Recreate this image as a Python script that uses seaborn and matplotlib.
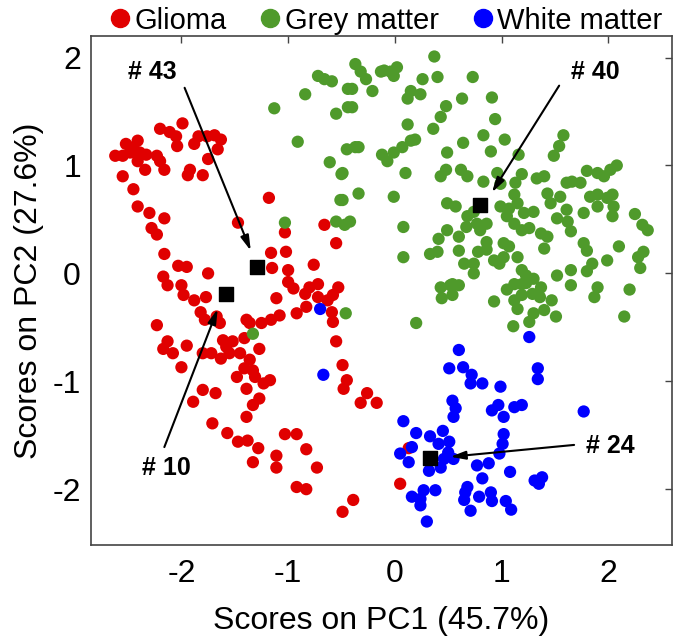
import numpy as np
import pandas as pd
import seaborn as sns
import matplotlib.pyplot as plt

# ---- data (PCA scores) ----
glioma_pc1 = [-1.99, -2.20, -2.11, -2.05, -2.04, -1.84, -1.76, -1.69, -1.63, -1.66, -1.88, -1.75,
              -1.92, -1.94, -1.80, -2.52, -2.41, -2.45, -2.62, -2.55, -2.48, -2.39, -2.33, -2.23,
              -2.20, -2.41, -2.34, -2.55, -2.16, -2.45, -2.41, -2.30, -2.16, -2.28, -2.23, -2.16,
              -2.17, -2.03, -1.95, -1.75, -1.47, -1.18, -1.03, -1.16, -1.02, -1.15, -1.00, -0.76,
              -0.66, -0.55, -0.80, -0.72, -0.53, -0.95,
              -2.13, -2.00, -1.98, -1.88, -1.77, -1.82, -1.78, -1.67, -1.64, -2.23, -2.17, -2.13,
              -2.08, -1.95, -2.00, -1.80, -1.72, -1.61, -1.58, -1.52, -1.63, -1.55, -1.45, -1.39,
              -1.36, -1.41, -1.27, -1.36, -1.41, -1.33, -1.23, -1.17, -1.48, -1.39, -1.31, -1.27,
              -1.33, -1.39, -1.89, -1.80, -1.68, -1.71, -1.57, -1.47, -1.38, -1.28, -1.33, -1.11,
              -1.11, -1.03, -0.92, -0.83, -0.73, -0.92, -0.83, -1.25, -1.16, -1.08, -1.11, -1.00,
              -0.84, -0.92, -0.83, -0.72, -0.63, -0.58, -0.59, -0.55, -0.58,
              -0.49, -0.45, -0.48, -0.26, -0.32, -0.17, 0.13, 0.05, -0.39, -0.49]
glioma_pc2 = [1.39, 1.34, 1.31, 1.27, 1.18, 1.27, 1.27, 1.28, 1.24, 1.15, 1.20, 1.06,
              0.96, 0.91, 0.91, 1.20, 1.23, 1.17, 1.09, 1.09, 1.12, 1.12, 1.10, 1.09,
              1.04, 1.04, 0.96, 0.90, 0.96, 0.78, 0.62, 0.56, 0.51, 0.42, 0.36, 0.18,
              -0.03, 0.07, 0.06, 0.00, 0.47, 0.70, 0.38, 0.19, 0.20, 0.05, 0.03, 0.08,
              0.45, 0.28, -0.13, -0.10, -0.13, -0.14,
              -0.11, -0.11, -0.20, -0.25, -0.22, -0.36, -0.43, -0.40, -0.46, -0.48, -0.70, -0.63,
              -0.74, -0.67, -0.87, -0.74, -0.74, -0.62, -0.68, -0.63, -0.79, -0.74, -0.74, -0.43,
              -0.46, -0.60, -0.70, -0.80, -0.88, -0.90, -1.02, -0.99, -0.96, -1.07, -0.96, -1.16,
              -1.22, -1.33, -1.19, -1.08, -1.11, -1.39, -1.48, -1.56, -1.55, -1.62, -1.75, -1.69,
              -1.80, -1.49, -1.49, -1.63, -1.80, -1.98, -2.00, -0.46, -0.43, -0.39, -0.23, -0.08,
              -0.19, -0.37, -0.31, -0.22, -0.25, -0.20, -0.36, -0.63, -0.45,
              -0.85, -0.99, -1.07, -1.11, -1.20, -1.20, -1.62, -1.95, -2.10, -2.21]

grey_pc1 = [-1.13, -0.84, -0.72, -0.66, -0.59, -0.44, -0.55, -0.44, -0.91, -0.61, -0.50, -0.45,
            -0.51, -1.03, -0.55, -0.47, -0.46, -1.33,
            0.37, 0.40, 0.26, 0.73, -0.37, -0.32, -0.27, -0.40, -0.21, -0.13, -0.10, -0.04,
            0.02, -0.01, 0.15, 0.12, 0.24, -0.40, 0.91, 0.94, 0.63, 0.48, 0.43, 0.36,
            0.12, 0.83, 1.03, 1.58, 1.54, 1.49, -0.37, -0.34, -0.12, -0.07, -0.01, 0.07,
            0.15, 0.19, 0.10, 0.64, 0.49, 0.90, 1.16, -0.49, -0.49, -0.34, -0.42, -0.01,
            0.08, 0.08, 0.43, 0.48, 0.62, 0.68, 0.83, 0.96, 0.99, 1.19, 1.33, 1.40,
            1.43, 1.46, 1.13, 1.12, 1.15, 1.21, 1.30, 1.07, 0.99, 1.05, 1.12, 1.19,
            1.26, 1.37, 1.43, 1.40, 1.55, 1.61, 1.66, 1.74, 1.80, 1.90, 1.96, 2.02,
            2.08, 1.83, 1.90, 1.99, 2.04, 1.90, 2.05, 2.04, 1.77, 1.61, 1.52, 1.62,
            1.65, 1.77, 1.80, 1.85, 1.99, 1.90, 1.65, 1.52, 1.30, 1.23, 1.19, 1.19,
            1.37, 1.12, 1.02, 1.02, 1.07, 1.15, 0.80, 0.86, 0.86, 0.78, 0.74, 0.93,
            0.98, 0.60, 0.65, 0.60, 0.68, 0.74, 0.77, 0.86, 0.67, 0.49, 0.41, 0.40,
            0.33, 0.49, 0.57, 0.43, 0.54,
            0.52, 0.60, 0.44, 0.54, 0.74, 0.93, 1.05, 1.12, 1.19, 1.29, 1.36, 1.47,
            1.15, 1.30, 1.40, 1.51, 1.26, 1.11, 1.65, 1.80, 1.87, 1.23, 0.20,
            2.25, 2.32, 2.37, 2.28, 2.33, 2.30, 2.20, 2.15, 2.10]
grey_pc2 = [1.53, 1.66, 1.83, 1.80, 1.78, 1.71, 1.48, 1.54, 1.22, 1.03, 0.92, 1.15,
            0.68, 0.47, 0.48, 0.45, -0.37, -0.56,
            2.01, 1.82, 1.80, 1.82, 1.94, 1.87, 1.80, 1.71, 1.69, 1.87, 1.88, 1.87,
            1.91, 1.83, 1.69, 1.62, 1.66, 1.54, 1.63, 1.43, 1.62, 1.55, 1.45, 1.34,
            1.38, 1.28, 1.24, 1.28, 1.18, 1.09, 1.17, 1.17, 1.10, 1.04, 1.12, 1.17,
            1.23, 1.24, 0.93, 1.21, 1.12, 1.13, 1.10, 0.93, 0.68, 0.74, 0.48, 0.71,
            0.43, 0.15, 0.90, 0.96, 0.96, 0.90, 0.85, 0.93, 0.83, 0.92, 0.88, 0.90,
            0.74, 0.65, 0.84, 0.73, 0.65, 0.56, 0.57, 0.60, 0.62, 0.53, 0.46, 0.40,
            0.42, 0.37, 0.34, 0.23, 0.71, 0.84, 0.85, 0.84, 0.95, 0.93, 0.90, 0.96,
            1.00, 0.71, 0.73, 0.70, 0.73, 0.62, 0.62, 0.53, 0.56, 0.59, 0.51, 0.48,
            0.39, 0.28, 0.21, 0.09, 0.12, -0.13, 0.03, -0.02, -0.05, -0.02, 0.03, -0.10,
            -0.13, -0.10, 0.28, 0.15, 0.25, 0.15, 0.40, 0.29, 0.22, 0.20, 0.09, 0.12,
            0.09, 0.21, 0.09, 0.34, 0.53, 0.57, 0.46, 0.46, 0.43, 0.40, 0.32, 0.20,
            0.18, 0.65, 0.62, -0.13, -0.10,
            -0.11, -0.11, -0.23, -0.20, 0.00, -0.26, -0.15, -0.25, -0.20, -0.19, -0.22, -0.25,
            -0.33, -0.37, -0.34, -0.40, -0.45, -0.49, -0.11, 0.02, -0.22, -0.09, -0.46,
            0.55, 0.45, 0.40, 0.15, 0.20, 0.05, -0.15, -0.40, 0.25]

white_pc1 = [-0.70, -0.67,
             1.26, 0.60, 0.51, 0.64, 0.72, 0.71, 0.82, 0.99, 1.34, 1.34, 0.54, 0.57,
             0.55, 0.91, 0.97, 1.02, 1.12, 1.19, 1.77, 0.08, 0.20, 0.33, 0.41, 0.45,
             0.51, 0.50, 1.02, 1.01, 0.98, 0.05, 0.16, 0.13, 0.46, 0.55, 0.43, 0.32,
             0.77, 0.88, 0.82, 1.08, 1.31, 1.38, 1.35, 0.16, 0.27, 0.38, 0.24, 0.24,
             0.30, 0.66, 0.65, 0.68, 0.71, 0.79, 0.90, 0.91, 1.04, 1.09]
white_pc2 = [-0.33, -0.94,
             -0.59, -0.71, -0.88, -0.87, -0.94, -1.02, -1.02, -1.05, -0.88, -0.98, -1.18, -1.25,
             -1.33, -1.27, -1.22, -1.33, -1.24, -1.22, -1.28, -1.37, -1.48, -1.51, -1.58, -1.46,
             -1.56, -1.66, -1.49, -1.58, -1.67, -1.67, -1.61, -1.75, -1.72, -1.72, -1.80, -1.83,
             -1.78, -1.76, -1.90, -1.84, -1.92, -1.89, -1.95, -2.07, -2.01, -2.01, -2.09, -2.15,
             -2.30, -2.03, -2.10, -1.98, -2.20, -2.07, -2.03, -2.11, -2.11, -2.19]

# highlighted samples: label, score position, arrow start, label position
sample_ids = ["# 43", "# 40", "# 10", "# 24"]
sample_pc1 = [-1.29, 0.80, -1.58, 0.33]
sample_pc2 = [0.06, 0.63, -0.19, -1.71]
arrow_tip = [(-1.35, 0.21), (0.91, 0.75), (-1.66, -0.33), (0.52, -1.70)]
arrow_start = [(-1.97, 1.72), (1.54, 1.74), (-2.16, -1.61), (1.68, -1.59)]
label_pos = [(-2.27, 1.87), (1.88, 1.87), (-2.14, -1.80), (2.02, -1.60)]

groups = ["Glioma", "Grey matter", "White matter"]
colors = ["#e00000", "#4f9a2b", "#0000ff"]

df = pd.DataFrame({
    "pc1": glioma_pc1 + grey_pc1 + white_pc1,
    "pc2": glioma_pc2 + grey_pc2 + white_pc2,
    "tissue": [groups[0]] * len(glioma_pc1) + [groups[1]] * len(grey_pc1)
              + [groups[2]] * len(white_pc1),
})

sns.set_style("white")
plt.rcParams["font.family"] = ["Liberation Sans", "DejaVu Sans"]
plt.rcParams["axes.unicode_minus"] = False
plt.rcParams["text.color"] = "black"
plt.rcParams["axes.labelcolor"] = "black"
plt.rcParams["xtick.color"] = "black"
plt.rcParams["ytick.color"] = "black"

fig = plt.figure(figsize=(6.77, 6.43), dpi=100)
ax = fig.add_axes([0.134, 0.152, 0.859, 0.792])

sns.scatterplot(data=df, x="pc1", y="pc2", hue="tissue", hue_order=groups,
                palette=colors, s=78, linewidth=0, ax=ax, legend=False)

# highlighted samples
ax.scatter(sample_pc1, sample_pc2, marker="s", s=100, color="black", zorder=5)
for lab, tip, start, pos in zip(sample_ids, arrow_tip, arrow_start, label_pos):
    ax.annotate("", xy=tip, xytext=start,
                arrowprops=dict(arrowstyle="-|>,head_length=0.9,head_width=0.25",
                                color="black", lw=1.5, shrinkA=0, shrinkB=0))
    ax.text(pos[0], pos[1], lab, fontsize=18, fontweight="bold",
            ha="center", va="center")

ax.set_xlim(-2.85, 2.6)
ax.set_ylim(-2.52, 2.2)
ax.set_xticks([-2, -1, 0, 1, 2])
ax.set_yticks([-2, -1, 0, 1, 2])
ax.set_xlabel("Scores on PC1 (45.7%)", fontsize=23, labelpad=12)
ax.set_ylabel("Scores on PC2 (27.6%)", fontsize=23, labelpad=6)
ax.tick_params(direction="in", length=5, width=1, top=True, right=True,
               labelsize=23, color="#444444", labelcolor="black")
ax.tick_params(axis="x", pad=10)
ax.tick_params(axis="y", pad=7)
for sp in ax.spines.values():
    sp.set_color("#444444")
    sp.set_linewidth(1.2)

# legend on top
handles = [plt.Line2D([], [], marker="o", ls="", color=c, markersize=13) for c in colors]
fig.legend(handles, groups, loc="center", bbox_to_anchor=(0.565, 0.968), ncol=3,
           frameon=False, fontsize=21, handletextpad=-0.1, columnspacing=0.9,
           borderaxespad=0, handlelength=1.2, labelcolor="black")

fig.savefig("out.png", dpi=100)
